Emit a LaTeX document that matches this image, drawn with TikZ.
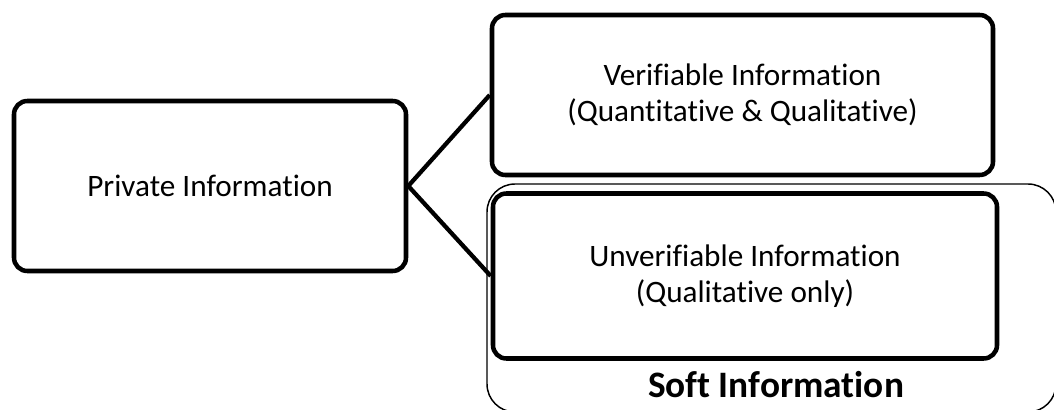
\documentclass[tikz,border=0pt]{standalone}
\usepackage{fontspec}
\setmainfont{Carlito}[Ligatures=NoCommon]
\begin{document}
\begin{tikzpicture}[x=0.75pt, y=-0.75pt,
        infobox/.style={draw, line width=3.4pt, rounded corners=10pt, align=center, inner sep=0pt,
            font=\fontsize{23.4}{27}\selectfont},
        link/.style={line width=3.2pt}]
        \useasboundingbox (0, 0) rectangle (1054, 410);
        \clip (0, 0) rectangle (1054, 410);
        \node[draw, line width=1.1pt, rounded corners=21pt, minimum width=426.75pt, minimum height=171pt] (soft) at (771.5, 298) {};
        \node[anchor=base, font=\fontsize{28}{33}\selectfont\bfseries] (softlabel) at (776, 397) {Soft Information};
        \node[infobox, minimum width=294pt, minimum height=127.5pt] (priv) at (210, 186) {Private Information};
        \node[infobox, minimum width=375.75pt, minimum height=120pt] (verif) at (742.5, 95) {Verifiable Information\\(Quantitative \& Qualitative)};
        \node[infobox, minimum width=378pt, minimum height=123.75pt] (unverif) at (745, 276) {Unverifiable Information\\(Qualitative only)};
        \draw[link] (priv.east) -- (verif.west);
        \draw[link] (priv.east) -- (unverif.west);
    \end{tikzpicture}
\end{document}
